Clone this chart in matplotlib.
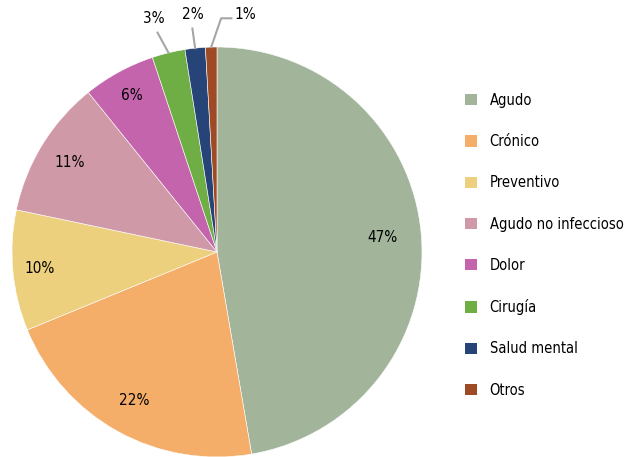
import numpy as np
import matplotlib
matplotlib.use("Agg")
import matplotlib.pyplot as plt
from matplotlib.patches import Patch

plt.rcParams['font.family'] = ['DejaVu Sans']
plt.rcParams['font.stretch'] = 'condensed'

categorias = ['Agudo', 'Crónico', 'Preventivo', 'Agudo no infeccioso',
              'Dolor', 'Cirugía', 'Salud mental', 'Otros']
valores = [47.3, 21.5, 9.5, 10.9, 5.7, 2.6, 1.6, 0.9]
etiquetas = ['47%', '22%', '10%', '11%', '6%', '3%', '2%', '1%']
colores = ['#A2B59B', '#F5AE6A', '#EDD07E', '#D099A8',
           '#C464AC', '#6FAE45', '#264478', '#9E4A25']

fig = plt.figure(figsize=(6.25, 4.57), dpi=100)
ax = fig.add_axes([12 / 625, 0, 410 / 625, 410 / 457])

wedges, _ = ax.pie(valores, colors=colores, startangle=90, counterclock=False,
                   radius=1, wedgeprops=dict(edgecolor='white', linewidth=0.4))
ax.set_xlim(-1, 1)
ax.set_ylim(-1, 1)
ax.set_aspect('equal')

# etiquetas internas
dist = [0.81, 0.83, 0.87, 0.84, 0.87]
for w, lab, d in zip(wedges[:5], etiquetas[:5], dist):
    ang = np.deg2rad((w.theta1 + w.theta2) / 2)
    ax.text(d * np.cos(ang), d * np.sin(ang), lab, ha='center', va='center',
            fontsize=11, color='black')

# etiquetas externas con líneas guía
texto_pos = [(-0.31, 1.14), (-0.12, 1.16), (0.14, 1.16)]
for w, lab, (tx, ty) in zip(wedges[5:], etiquetas[5:], texto_pos):
    ang = np.deg2rad((w.theta1 + w.theta2) / 2)
    px, py = np.cos(ang), np.sin(ang)
    ax.text(tx, ty, lab, ha='center', va='center', fontsize=11,
            color='black', clip_on=False)
    if lab == '1%':
        ax.plot([tx - 0.07, 0.02, px], [ty - 0.02, ty - 0.02, py],
                color='#A6A6A6', lw=1.5, clip_on=False)
    else:
        ax.plot([tx + (0.02 if lab == '3%' else 0.0), px], [ty - 0.07, py],
                color='#A6A6A6', lw=1.5, clip_on=False)

handles = [Patch(facecolor=c, edgecolor='none') for c in colores]
fig.legend(handles, categorias, loc='upper left', bbox_to_anchor=(459 / 625, 1 - 87 / 457),
           frameon=False, fontsize=10.5, handlelength=0.8, handleheight=0.8,
           handletextpad=0.9, labelspacing=1.8, borderaxespad=0)

fig.savefig('out.png', dpi=100)
